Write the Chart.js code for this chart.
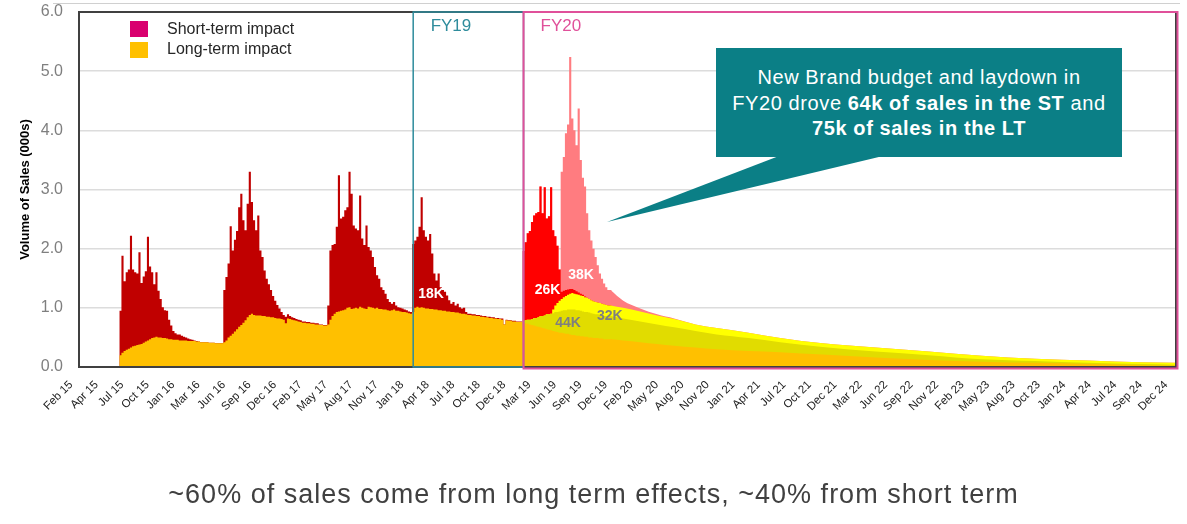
<!DOCTYPE html>
<html>
<head>
<meta charset="utf-8">
<script src="https://cdn.jsdelivr.net/npm/chart.js@4.4.1/dist/chart.umd.min.js"></script>
<style>
  body { margin: 0; background: #fff; font-family: 'Liberation Sans', Arial, sans-serif; }
  #wrap { position: relative; width: 1187px; height: 524px; overflow: hidden; }
  #chart { position: absolute; left: 0; top: 0; }
  .topline { position: absolute; left: 53px; top: 3px; width: 1127px; height: 1px; background: #d0d0d0; }
  .swatch { position: absolute; left: 130px; width: 18px; height: 16px; }
  .legtext { position: absolute; left: 167px; font-size: 16px; color: #262626; line-height: 18px; }
  .fy { position: absolute; font-size: 17px; transform: translate(-50%, -50%); }
  .k { position: absolute; font-size: 14px; font-weight: bold; transform: translate(-50%, -50%); }
  .callout { position: absolute; left: 716px; top: 48px; width: 406px; height: 109px; background: #0B7F86;
             color: #fff; font-size: 20px; letter-spacing: 0.6px; line-height: 25.5px; text-align: center;
             box-sizing: border-box; padding-top: 17px; }
  .caption { position: absolute; left: 0; top: 478px; width: 1187px; text-align: center; font-size: 27px;
             letter-spacing: 1px; color: #404040; line-height: 32px; }
</style>
</head>
<body>
<div id="wrap">
  <canvas id="chart" width="1187" height="524"></canvas>
  <div class="topline"></div>
  <div class="swatch" style="top:21px;background:#D9006F"></div>
  <div class="legtext" style="top:20px">Short-term impact</div>
  <div class="swatch" style="top:42px;background:#FFC000"></div>
  <div class="legtext" style="top:40px">Long-term impact</div>
  <svg width="1187" height="524" style="position:absolute;left:0;top:0">
    <polygon points="779,156 883,156 607,222" fill="#0B7F86"></polygon>
  </svg>
  <div class="callout">New Brand budget and laydown in<br>FY20 drove <b>64k of sales in the ST</b> and<br><b>75k of sales in the LT</b></div>
  <div class="caption">~60% of sales come from long term effects, ~40% from short term</div>
</div>
<script>
// x axis: one unit per week, week 0 = Feb 15
const tickLabels = ['Feb 15', 'Apr 15', 'Jul 15', 'Oct 15', 'Jan 16', 'Mar 16', 'Jun 16', 'Sep 16', 'Dec 16',
  'Feb 17', 'May 17', 'Aug 17', 'Nov 17', 'Jan 18', 'Apr 18', 'Jul 18', 'Oct 18', 'Dec 18', 'Mar 19', 'Jun 19',
  'Sep 19', 'Dec 19', 'Feb 20', 'May 20', 'Aug 20', 'Nov 20', 'Jan 21', 'Apr 21', 'Jul 21', 'Oct 21', 'Dec 21',
  'Mar 22', 'Jun 22', 'Sep 22', 'Nov 22', 'Feb 23', 'May 23', 'Aug 23', 'Oct 23', 'Jan 24', 'Apr 24', 'Jul 24',
  'Sep 24', 'Dec 24'];
const tickStep = 12;
const lastWeek = 516;
const fyStartWeeks = [157, 209];

// FY16 - FY19, weekly, starting at week 19
const firstWeek = 19;
const longTerm = [
  0.06, 0.20, 0.24, 0.27, 0.29, 0.31, 0.33, 0.35, 0.36, 0.37,
  0.38, 0.39, 0.41, 0.43, 0.45, 0.47, 0.49, 0.50, 0.51, 0.50,
  0.50, 0.49, 0.49, 0.48, 0.47, 0.47, 0.46, 0.46, 0.46, 0.45,
  0.45, 0.45, 0.45, 0.44, 0.44, 0.44, 0.44, 0.43, 0.43, 0.42,
  0.42, 0.42, 0.42, 0.41, 0.41, 0.41, 0.40, 0.40, 0.40, 0.40,
  0.42, 0.45, 0.50, 0.53, 0.56, 0.60, 0.64, 0.68, 0.71, 0.75,
  0.79, 0.84, 0.88, 0.90, 0.88, 0.87, 0.87, 0.87, 0.86, 0.86,
  0.85, 0.85, 0.84, 0.84, 0.83, 0.82, 0.82, 0.81, 0.80, 0.74,
  0.82, 0.81, 0.80, 0.79, 0.78, 0.77, 0.76, 0.75, 0.75, 0.74,
  0.74, 0.73, 0.73, 0.72, 0.72, 0.71, 0.71, 0.70, 0.70, 0.72,
  0.80, 0.86, 0.90, 0.93, 0.94, 0.95, 0.96, 0.97, 1.00, 1.01,
  0.98, 0.99, 1.00, 0.99, 1.02, 1.00, 0.99, 0.98, 1.02, 1.01,
  1.00, 0.99, 1.00, 0.98, 0.98, 0.97, 0.97, 0.96, 0.95, 0.96,
  0.97, 0.95, 0.95, 0.94, 0.93, 0.93, 0.92, 0.91, 0.90, 0.93,
  1.00, 1.02, 1.00, 1.01, 1.00, 0.99, 0.99, 0.98, 0.98, 0.97,
  0.97, 0.96, 0.96, 0.95, 0.95, 0.94, 0.94, 0.93, 0.93, 0.92,
  0.92, 0.91, 0.90, 0.90, 0.89, 0.88, 0.88, 0.87, 0.87, 0.86,
  0.86, 0.85, 0.85, 0.84, 0.84, 0.83, 0.83, 0.82, 0.82, 0.81,
  0.81, 0.80, 0.72, 0.79, 0.78, 0.78, 0.77, 0.77, 0.76, 0.76
];
const shortTerm = [
  0.40, 0.75, 1.64, 1.18, 1.31, 1.34, 1.89, 1.30, 1.24, 1.21,
  1.56, 1.03, 1.12, 1.19, 1.75, 1.23, 1.11, 0.90, 1.09, 0.79,
  0.65, 0.52, 0.47, 0.47, 0.33, 0.23, 0.15, 0.11, 0.09, 0.10,
  0.08, 0.06, 0.05, 0.04, 0.03, 0.02, 0.01, 0.01, 0, 0,
  0, 0, 0, 0, 0, 0, 0, 0, 0, 0,
  0.88, 1.07, 1.25, 1.85, 1.41, 1.55, 1.66, 2.02, 2.22, 1.73,
  1.52, 1.92, 2.42, 1.89, 1.60, 1.44, 1.69, 1.10, 1.00, 0.77,
  0.64, 0.55, 0.46, 0.36, 0.29, 0.23, 0.17, 0.12, 0.08, 0.11,
  0.07, 0.05, 0.04, 0.04, 0.03, 0.03, 0.03, 0.02, 0.02, 0.02,
  0.02, 0.02, 0.02, 0.02, 0.02, 0.01, 0.01, 0.01, 0.01, 0.32,
  1.17, 1.20, 1.18, 1.44, 2.30, 1.56, 1.58, 1.68, 1.70, 2.29,
  1.95, 1.40, 1.34, 1.32, 1.88, 1.17, 1.07, 1.41, 1.01, 0.96,
  0.86, 0.70, 0.55, 0.51, 0.37, 0.33, 0.27, 0.19, 0.15, 0.11,
  0.13, 0.09, 0.06, 0.06, 0.06, 0.04, 0.04, 0.03, 0.03, 1.15,
  1.14, 1.18, 1.37, 1.86, 1.31, 1.21, 1.15, 1.27, 0.94, 0.61,
  0.49, 0.62, 0.39, 0.35, 0.32, 0.27, 0.19, 0.14, 0.17, 0.12,
  0.15, 0.10, 0.09, 0.10, 0.04, 0.02, 0.02, 0.02, 0.02, 0.02,
  0.02, 0.02, 0.01, 0.02, 0.01, 0.02, 0.01, 0.02, 0.01, 0.02,
  0.01, 0.02, 0, 0.01, 0.01, 0.01, 0.01, 0.01, 0.01, 0.01
];

// FY20 laydown, weekly from week 209 to 250
const fy20Week = 209;
const fy20Base = [
  0.76, 0.75, 0.74, 0.73, 0.72, 0.71, 0.70, 0.69, 0.68, 0.67,
  0.66, 0.65, 0.64, 0.63, 0.62, 0.61, 0.60, 0.59, 0.58, 0.58,
  0.57, 0.56, 0.56, 0.55, 0.54, 0.54, 0.53, 0.53, 0.52, 0.52,
  0.51, 0.51, 0.50, 0.50, 0.49, 0.49, 0.49, 0.48, 0.48, 0.47,
  0.47, 0.47
];
const fy20Lt1 = [ // 44K
  0, 0.03, 0.05, 0.07, 0.08, 0.10, 0.13, 0.14, 0.16, 0.19,
  0.20, 0.22, 0.25, 0.26, 0.28, 0.30, 0.33, 0.34, 0.36, 0.37,
  0.39, 0.40, 0.41, 0.42, 0.43, 0.43, 0.43, 0.43, 0.43, 0.42,
  0.42, 0.42, 0.42, 0.41, 0.41, 0.40, 0.40, 0.40, 0.39, 0.39,
  0.39, 0.39
];
const fy20Lt2 = [ // 32K
  0, 0, 0, 0, 0, 0, 0, 0, 0, 0,
  0, 0, 0, 0, 0, 0.06, 0.11, 0.15, 0.18, 0.20,
  0.22, 0.24, 0.25, 0.27, 0.28, 0.27, 0.27, 0.26, 0.26, 0.26,
  0.25, 0.24, 0.23, 0.22, 0.21, 0.21, 0.20, 0.20, 0.20, 0.20,
  0.19, 0.18
];
const fy20St1 = [ // 26K
  1.09, 1.18, 1.32, 1.46, 1.50, 1.64, 1.73, 1.77, 1.78, 2.19,
  1.74, 2.17, 1.62, 1.66, 2.14, 1.34, 1.17, 0.97, 0.53, 0.12,
  0.11, 0.10, 0.09, 0.08, 0.07, 0.06, 0.05, 0.04, 0.03, 0.02,
  0.01, 0, 0, 0, 0, 0, 0, 0, 0, 0,
  0, 0
];
const fy20St2 = [ // 38K
  0, 0, 0, 0, 0, 0, 0, 0, 0, 0,
  0, 0, 0, 0, 0, 0, 0, 0, 0, 2.03,
  2.26, 2.65, 2.79, 3.92, 2.88, 2.70, 2.47, 3.11, 2.26, 1.98,
  1.86, 1.43, 1.16, 1.01, 0.89, 0.76, 0.63, 0.50, 0.42, 0.35,
  0.30, 0.26
];

// decay tail, read at these weeks
const tailWeeks = [250, 256, 264, 272, 280, 290, 300, 315, 330, 350, 375, 400, 425, 450, 475, 500, 516.5];
const tailBase = [0.47, 0.45, 0.42, 0.39, 0.36, 0.33, 0.30, 0.27, 0.25, 0.21, 0.16, 0.12, 0.09, 0.07, 0.05, 0.03, 0.02];
const tailLt1 = [0.39, 0.37, 0.35, 0.33, 0.31, 0.28, 0.25, 0.22, 0.17, 0.13, 0.10, 0.08, 0.04, 0.03, 0.02, 0.02, 0.02];
const tailLt2 = [0.18, 0.18, 0.17, 0.15, 0.14, 0.11, 0.11, 0.09, 0.07, 0.06, 0.07, 0.06, 0.06, 0.04, 0.04, 0.03, 0.03];
const tailSt2 = [0.26, 0.12, 0.05, 0.02, 0.01, 0, 0, 0, 0, 0, 0, 0, 0, 0, 0, 0, 0];

const annotations = [
  { text: 'FY19', week: 174.8, value: 5.76, color: '#2E8C9C', cls: 'fy' },
  { text: 'FY20', week: 226.6, value: 5.76, color: '#E0509A', cls: 'fy' },
  { text: '18K', week: 165.4, value: 1.25, color: '#fff', cls: 'k' },
  { text: '26K', week: 220.3, value: 1.32, color: '#fff', cls: 'k' },
  { text: '38K', week: 236.1, value: 1.58, color: '#fff', cls: 'k' },
  { text: '44K', week: 230.0, value: 0.76, color: '#7f7f7f', cls: 'k' },
  { text: '32K', week: 249.7, value: 0.88, color: '#7f7f7f', cls: 'k' }
];

function cumulate(layers) {
  let run = layers[0].map(() => 0);
  return layers.map(layer => {
    run = run.map((r, k) => +(r + layer[k]).toFixed(3));
    return run;
  });
}

// weekly values drawn as bars: each value holds for its whole week
function stepPoints(start, values) {
  const pts = values.map((v, k) => ({ x: start + k - 0.5, y: v }));
  pts.push({ x: start + values.length - 0.5, y: values[values.length - 1] });
  return pts;
}

function tailPoints(values) {
  return tailWeeks.map((w, k) => ({ x: w, y: values[k] }));
}

function area(label, data, color, stepped) {
  return {
    label: label,
    data: data,
    backgroundColor: color,
    borderWidth: 0,
    pointRadius: 0,
    fill: 'origin',
    stepped: stepped ? 'after' : false,
    cubicInterpolationMode: 'monotone'
  };
}

const [aBase, aTotal] = cumulate([longTerm, shortTerm]);
const [bBase, bLt1, bLt2, bSt1, bSt2] = cumulate([fy20Base, fy20Lt1, fy20Lt2, fy20St1, fy20St2]);
const [cBase, cLt1, cLt2, cSt2] = cumulate([tailBase, tailLt1, tailLt2, tailSt2]);

// first dataset is drawn last (on top)
const datasets = [
  area('Long-term impact', stepPoints(firstWeek, aBase), '#FFC000', true),
  area('FY20 base', stepPoints(fy20Week, bBase), '#FFC000', true),
  area('Tail base', tailPoints(cBase), '#FFC000', false),
  area('FY20 LT 44K', stepPoints(fy20Week, bLt1), '#E1DC00', true),
  area('Tail LT 44K', tailPoints(cLt1), '#E1DC00', false),
  area('FY20 LT 32K', stepPoints(fy20Week, bLt2), '#FFFF00', true),
  area('Tail LT 32K', tailPoints(cLt2), '#FFFF00', false),
  area('FY20 ST 26K', stepPoints(fy20Week, bSt1), '#FF0000', true),
  area('Short-term impact', stepPoints(firstWeek, aTotal), '#C00000', true),
  area('FY20 ST 38K', stepPoints(fy20Week, bSt2), '#FF7C80', true),
  area('Tail ST 38K', tailPoints(cSt2), '#FF7C80', false)
];

const fyBoxes = {
  id: 'fyBoxes',
  afterDatasetsDraw(chart) {
    const { ctx, chartArea: a, scales: { x } } = chart;
    const x19 = x.getPixelForValue(fyStartWeeks[0]);
    const x20 = x.getPixelForValue(fyStartWeeks[1]);
    ctx.save();
    ctx.lineWidth = 2;
    ctx.strokeStyle = '#404040';
    ctx.strokeRect(a.left, a.top, a.right - a.left, a.bottom - a.top);
    ctx.lineWidth = 1.5;
    ctx.strokeStyle = '#2E8C9C';
    ctx.strokeRect(x19, a.top, x20 - x19, a.bottom - a.top);
    ctx.lineWidth = 2;
    ctx.strokeStyle = '#E0509A';
    ctx.strokeRect(x20, a.top, a.right - x20 + 1.5, a.bottom - a.top + 1.5);
    ctx.restore();
  }
};

Chart.defaults.font.family = "'Liberation Sans', Arial, sans-serif";

const chart = new Chart(document.getElementById('chart'), {
  type: 'line',
  data: { datasets: datasets },
  options: {
    responsive: false,
    animation: false,
    devicePixelRatio: 1,
    layout: { padding: { left: 0, right: 11, top: 12, bottom: 97 } },
    plugins: { legend: { display: false }, tooltip: { enabled: false } },
    scales: {
      x: {
        type: 'linear',
        min: -0.5,
        max: lastWeek + 0.5,
        grid: { display: false, drawTicks: false },
        border: { display: false },
        afterBuildTicks: axis => {
          axis.ticks = tickLabels.map((_, k) => ({ value: k * tickStep }));
        },
        afterFit: axis => {
          axis.height = 60;
          axis.paddingLeft = 0;
          axis.paddingRight = 0;
        },
        ticks: {
          autoSkip: false,
          minRotation: 45,
          maxRotation: 45,
          padding: 11,
          labelOffset: -9,
          color: '#222',
          font: { size: 11.5 },
          callback: v => tickLabels[Math.round(v / tickStep)]
        }
      },
      y: {
        min: 0,
        max: 6,
        grid: { color: '#dcdcdc', lineWidth: 1.5, drawTicks: false },
        border: { display: false },
        afterFit: axis => {
          axis.width = 79;
          axis.paddingTop = 0;
          axis.paddingBottom = 0;
        },
        ticks: {
          stepSize: 1,
          padding: 16,
          color: '#7f7f7f',
          font: { size: 16 },
          callback: v => v.toFixed(1)
        },
        title: {
          display: true,
          text: 'Volume of Sales (000s)',
          color: '#000',
          font: { size: 13, weight: 'bold' },
          padding: { top: 18, bottom: 0 }
        }
      }
    }
  },
  plugins: [fyBoxes]
});

// place the in-chart labels at their data positions
const wrap = document.getElementById('wrap');
annotations.forEach(a => {
  const el = document.createElement('div');
  el.className = a.cls;
  el.textContent = a.text;
  el.style.color = a.color;
  el.style.left = chart.scales.x.getPixelForValue(a.week) + 'px';
  el.style.top = chart.scales.y.getPixelForValue(a.value) + 'px';
  wrap.appendChild(el);
});
</script>
</body>
</html>
